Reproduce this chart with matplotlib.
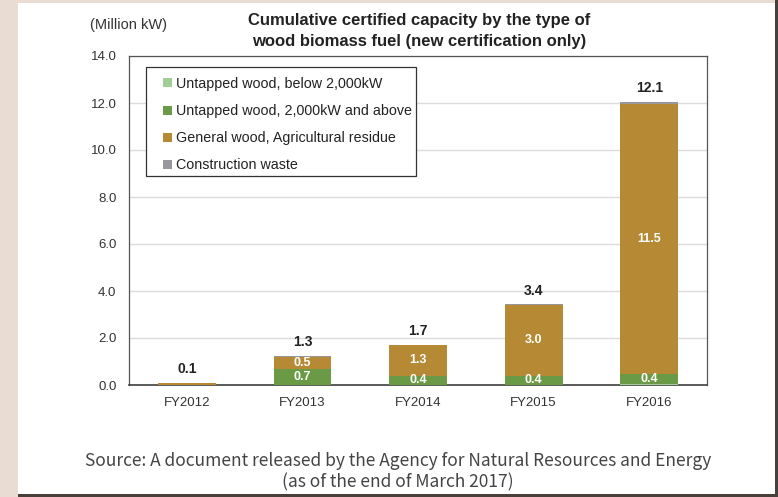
import numpy as np
import matplotlib.pyplot as plt
from matplotlib.patches import Rectangle

plt.rcParams['font.family'] = ['Liberation Sans', 'DejaVu Sans']

years = ['FY2012', 'FY2013', 'FY2014', 'FY2015', 'FY2016']
series_names = ['Untapped wood, below 2,000kW',
                'Untapped wood, 2,000kW and above',
                'General wood, Agricultural residue',
                'Construction waste']
below_2000 = [0.0, 0.0, 0.0, 0.0, 0.05]
above_2000 = [0.0, 0.7, 0.4, 0.4, 0.4]
general_wood = [0.07, 0.5, 1.3, 3.0, 11.5]
construction = [0.0, 0.05, 0.02, 0.03, 0.08]
totals = [0.1, 1.3, 1.7, 3.4, 12.1]

# values written inside the segments (None = no label)
above_labels = [None, 0.7, 0.4, 0.4, 0.4]
general_labels = [None, 0.5, 1.3, 3.0, 11.5]

colors = ['#9fcf95', '#6a9a45', '#b68a35', '#97979c']

W, H = 778, 497
fig = plt.figure(figsize=(W / 100, H / 100), dpi=100)
fig.patch.set_facecolor('#e8dcd3')

# white panel with a dark edge along the right and bottom
panel_parts = [
    ((18 / W, 0), 760 / W, 3 / H, '#4a403b'),
    ((775 / W, 0), 3 / W, 1.0, '#4a403b'),
    ((18 / W, 3 / H), 757 / W, 491 / H, 'white'),
]
for xy, w, h, fc in panel_parts:
    fig.patches.append(Rectangle(xy, w, h, transform=fig.transFigure,
                                 facecolor=fc, edgecolor='none', zorder=-10))

ax = fig.add_axes([129 / W, (H - 385) / H, (707 - 129) / W, (385 - 56) / H])
ax.set_facecolor('white')

x = np.arange(len(years))
width = 0.5
bottom = np.zeros(len(years))
for vals, name, c in zip([below_2000, above_2000, general_wood, construction],
                         series_names, colors):
    ax.bar(x, vals, width, bottom=bottom, color=c, label=name, zorder=3)
    bottom += np.array(vals)

base = np.array(below_2000)
for i in range(len(years)):
    if above_labels[i] is not None:
        y = base[i] + above_2000[i] / 2
        ax.text(x[i], y, f'{above_labels[i]:.1f}', ha='center', va='center',
                color='white', fontsize=9, fontweight='bold', zorder=4)
    if general_labels[i] is not None:
        y = base[i] + above_2000[i] + general_wood[i] / 2
        ax.text(x[i], y, f'{general_labels[i]:.1f}', ha='center', va='center',
                color='white', fontsize=9, fontweight='bold', zorder=4)
    ax.annotate(f'{totals[i]:.1f}', (x[i], bottom[i]), xytext=(0, 10),
                textcoords='offset points', ha='center', va='center',
                color='#222222', fontsize=10, fontweight='bold', zorder=4)

ax.set_xlim(-0.5, len(years) - 0.5)
ax.set_ylim(0, 14)
ticks = np.arange(0, 14.1, 2)
ax.set_yticks(ticks)
ax.set_yticklabels([f'{v:.1f}' for v in ticks])
ax.set_xticks(x)
ax.set_xticklabels(years)
ax.tick_params(length=0, labelsize=9.5, colors='#333333')
ax.tick_params(axis='y', pad=9)
ax.tick_params(axis='x', pad=9)
ax.yaxis.grid(True, color='#dcdcdc', linewidth=1, zorder=0)
ax.set_axisbelow(True)
for s in ax.spines.values():
    s.set_color('#555555')
    s.set_linewidth(0.9)
ax.spines['bottom'].set_color('#404040')
ax.spines['bottom'].set_linewidth(1.2)

# legend without its own frame; a white box sits under it, over the grid
leg = ax.legend(loc='upper left', bbox_to_anchor=(163 / W, 1 - 77 / H),
                bbox_transform=fig.transFigure,
                fontsize=10.3, frameon=False, handlelength=0.6,
                handleheight=0.6, handletextpad=0.3, labelspacing=0.92,
                borderpad=0, borderaxespad=0)
for t in leg.get_texts():
    t.set_color('#222222')
ax.add_patch(Rectangle((146 / W, 1 - 176 / H), (416 - 146) / W, (176 - 67) / H,
                       transform=fig.transFigure, facecolor='white',
                       edgecolor='#333333', linewidth=0.9, zorder=2.5,
                       clip_on=False))

fig.text(90 / W, 1 - 25 / H, '(Million kW)', ha='left', va='center',
         fontsize=10.5, color='#333333')
fig.text(419 / W, 1 - 31 / H,
         'Cumulative certified capacity by the type of\nwood biomass fuel (new certification only)',
         ha='center', va='center', fontsize=12, fontweight='bold',
         color='#222222', linespacing=1.45)

fig.text(398 / W, 1 - 472 / H,
         'Source: A document released by the Agency for Natural Resources and Energy\n(as of the end of March 2017)',
         ha='center', va='center', fontsize=12.5, color='#444444',
         family=['Noto Sans CJK JP', 'DejaVu Sans'], linespacing=1.25)

fig.savefig('out.png', dpi=100, facecolor=fig.get_facecolor())
